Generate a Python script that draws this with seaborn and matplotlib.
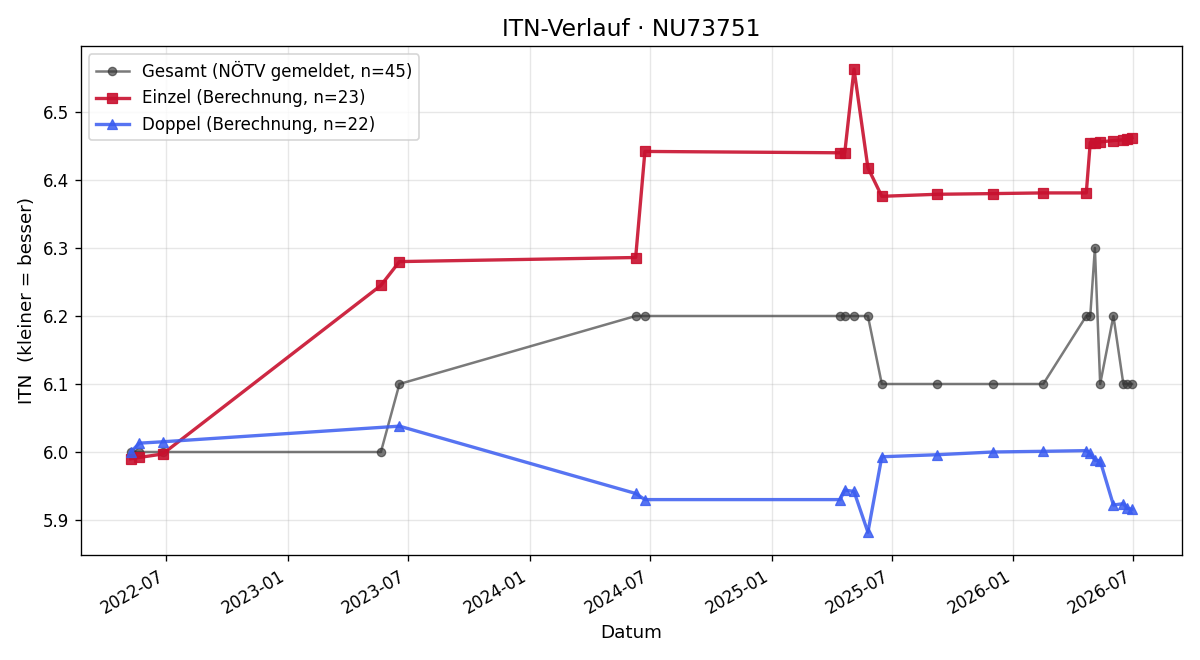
import numpy as np
import pandas as pd
import matplotlib
matplotlib.use("Agg")
import matplotlib.pyplot as plt
import matplotlib.dates as mdates
import seaborn as sns

# plain matplotlib look (no seaborn theme)
plt.rcdefaults()

# Turnier-Daten
dates_all = [
    "2022-05-08", "2022-05-21", "2022-06-25", "2023-05-21", "2023-06-18",
    "2024-06-09", "2024-06-23", "2025-04-14", "2025-04-21", "2025-05-05",
    "2025-05-26", "2025-06-16", "2025-09-08", "2025-12-01", "2026-02-15",
    "2026-04-21", "2026-04-27", "2026-05-04", "2026-05-12", "2026-06-01",
    "2026-06-16", "2026-06-22", "2026-06-29",
]
gesamt = [6.0, 6.0, 6.0, 6.0, 6.1, 6.2, 6.2, 6.2, 6.2, 6.2, 6.2, 6.1, 6.1,
          6.1, 6.1, 6.2, 6.2, 6.3, 6.1, 6.2, 6.1, 6.1, 6.1]
einzel = [5.990, 5.992, 5.997, 6.245, 6.280, 6.286, 6.442, 6.440, 6.440,
          6.563, 6.418, 6.376, 6.379, 6.380, 6.381, 6.381, 6.455, 6.454,
          6.456, 6.458, 6.459, 6.460, 6.462]

dates_doppel = [
    "2022-05-08", "2022-05-21", "2022-06-25", "2023-06-18", "2024-06-09",
    "2024-06-23", "2025-04-14", "2025-04-21", "2025-05-05", "2025-05-26",
    "2025-06-16", "2025-09-08", "2025-12-01", "2026-02-15", "2026-04-21",
    "2026-04-27", "2026-05-04", "2026-05-12", "2026-06-01", "2026-06-16",
    "2026-06-22", "2026-06-29",
]
doppel = [6.000, 6.013, 6.015, 6.038, 5.939, 5.930, 5.930, 5.944, 5.942,
          5.882, 5.993, 5.996, 6.000, 6.001, 6.002, 5.998, 5.988, 5.987,
          5.922, 5.924, 5.917, 5.916]

d_all = pd.to_datetime(dates_all)
d_dop = pd.to_datetime(dates_doppel)

fig, ax = plt.subplots(figsize=(10, 5.5), dpi=120)

c_ges, c_ein, c_dop = "#333333", "#c8102e", "#3a5cf0"
sns.lineplot(x=d_all, y=gesamt, ax=ax, color=c_ges, alpha=0.65, lw=1.5,
             marker="o", markersize=5, markeredgecolor=c_ges, estimator=None,
             sort=False, label="Gesamt (NÖTV gemeldet, n=45)")
sns.lineplot(x=d_all, y=einzel, ax=ax, color=c_ein, alpha=0.9, lw=2,
             marker="s", markersize=6, markeredgecolor=c_ein, estimator=None,
             sort=False, label="Einzel (Berechnung, n=23)")
sns.lineplot(x=d_dop, y=doppel, ax=ax, color=c_dop, alpha=0.85, lw=2,
             marker="^", markersize=6.5, markeredgecolor=c_dop, estimator=None,
             sort=False, label="Doppel (Berechnung, n=22)")

ax.set_title("ITN-Verlauf · NU73751", fontsize=14)
ax.set_xlabel("Datum", fontsize=11)
ax.set_ylabel("ITN  (kleiner = besser)", fontsize=11)
ax.grid(True, alpha=0.3)
ax.xaxis.set_major_locator(mdates.MonthLocator(bymonth=[1, 7]))
ax.xaxis.set_major_formatter(mdates.DateFormatter("%Y-%m"))
ax.legend(loc="upper left")
fig.autofmt_xdate()

fig.tight_layout()
fig.savefig("out.png")
